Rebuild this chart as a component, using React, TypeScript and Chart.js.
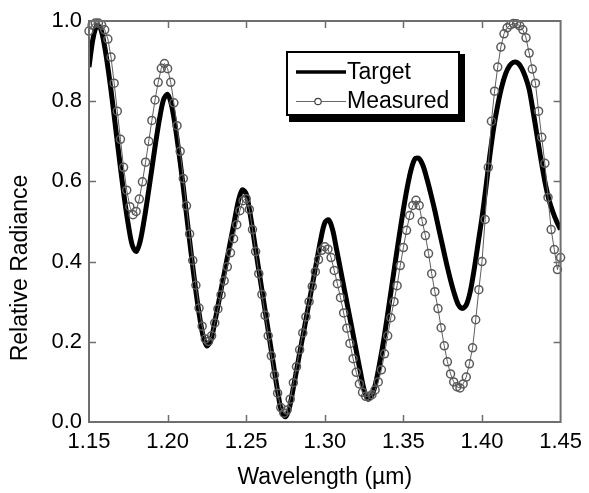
import { useEffect, useRef } from "react";
import { Chart, registerables } from "chart.js";

Chart.register(...registerables);

// ---- data ----
const targetWavelength = [
  1.15, 1.1525, 1.155, 1.1575, 1.16, 1.1625, 1.165, 1.1675,
  1.17, 1.1725, 1.175, 1.1775, 1.18, 1.1825, 1.185, 1.1875,
  1.19, 1.1925, 1.195, 1.1975, 1.2, 1.2025, 1.205, 1.2075,
  1.21, 1.2125, 1.215, 1.2175, 1.22, 1.2225, 1.225, 1.2275,
  1.23, 1.2325, 1.235, 1.2375, 1.24, 1.2425, 1.245, 1.2475,
  1.25, 1.2525, 1.255, 1.2575, 1.26, 1.2625, 1.265, 1.2675,
  1.27, 1.2725, 1.275, 1.2775, 1.28, 1.2825, 1.285, 1.2875,
  1.29, 1.2925, 1.295, 1.2975, 1.3, 1.3025, 1.305, 1.3075,
  1.31, 1.3125, 1.315, 1.3175, 1.32, 1.3225, 1.325, 1.3275,
  1.33, 1.3325, 1.335, 1.3375, 1.34, 1.3425, 1.345, 1.3475,
  1.35, 1.3525, 1.355, 1.3575, 1.36, 1.3625, 1.365, 1.3675,
  1.37, 1.3725, 1.375, 1.3775, 1.38, 1.3825, 1.385, 1.3875,
  1.39, 1.3925, 1.395, 1.3975, 1.4, 1.4025, 1.405, 1.4075,
  1.41, 1.4125, 1.415, 1.4175, 1.42, 1.4225, 1.425, 1.4275,
  1.43, 1.4325, 1.435, 1.4375, 1.44, 1.4425, 1.445, 1.4475,
  1.45,
];
const targetRadiance = [
  0.885, 0.955, 0.988, 0.98, 0.935, 0.871, 0.796, 0.715,
  0.635, 0.558, 0.492, 0.441, 0.425, 0.45, 0.502, 0.565,
  0.632, 0.699, 0.759, 0.805, 0.817, 0.79, 0.734, 0.663,
  0.585, 0.502, 0.42, 0.341, 0.272, 0.216, 0.19, 0.203,
  0.249, 0.299, 0.35, 0.4, 0.451, 0.501, 0.551, 0.579,
  0.569, 0.519, 0.456, 0.392, 0.329, 0.266, 0.203, 0.139,
  0.077, 0.026, 0.013, 0.036, 0.086, 0.139, 0.193, 0.245,
  0.298, 0.351, 0.404, 0.457, 0.497, 0.504, 0.479, 0.43,
  0.38, 0.329, 0.279, 0.229, 0.178, 0.128, 0.08, 0.057,
  0.066, 0.099, 0.149, 0.205, 0.269, 0.336, 0.403, 0.468,
  0.53, 0.586, 0.631, 0.657, 0.657, 0.639, 0.606, 0.568,
  0.527, 0.482, 0.438, 0.394, 0.354, 0.319, 0.292, 0.283,
  0.292, 0.325, 0.38, 0.445, 0.51, 0.585, 0.665, 0.735,
  0.79, 0.835, 0.868, 0.888, 0.897, 0.896, 0.884, 0.862,
  0.83, 0.775, 0.715, 0.655, 0.6, 0.556, 0.525, 0.5,
  0.48,
];

const measuredWavelength = [
  1.15, 1.152, 1.154, 1.156, 1.158, 1.16, 1.162, 1.164, 1.166, 1.168,
  1.17, 1.172, 1.174, 1.176, 1.178, 1.18, 1.182, 1.184, 1.186, 1.188,
  1.19, 1.192, 1.194, 1.196, 1.198, 1.2, 1.202, 1.204, 1.206, 1.208,
  1.21, 1.212, 1.214, 1.216, 1.218, 1.22, 1.222, 1.224, 1.226, 1.228,
  1.23, 1.232, 1.234, 1.236, 1.238, 1.24, 1.242, 1.244, 1.246, 1.248,
  1.25, 1.252, 1.254, 1.256, 1.258, 1.26, 1.262, 1.264, 1.266, 1.268,
  1.27, 1.272, 1.274, 1.276, 1.278, 1.28, 1.282, 1.284, 1.286, 1.288,
  1.29, 1.292, 1.294, 1.296, 1.298, 1.3, 1.302, 1.304, 1.306, 1.308,
  1.31, 1.312, 1.314, 1.316, 1.318, 1.32, 1.322, 1.324, 1.326, 1.328,
  1.33, 1.332, 1.334, 1.336, 1.338, 1.34, 1.342, 1.344, 1.346, 1.348,
  1.35, 1.352, 1.354, 1.356, 1.358, 1.36, 1.362, 1.364, 1.366, 1.368,
  1.37, 1.372, 1.374, 1.376, 1.378, 1.38, 1.382, 1.384, 1.386, 1.388,
  1.39, 1.392, 1.394, 1.396, 1.398, 1.4, 1.402, 1.404, 1.406, 1.408,
  1.41, 1.412, 1.414, 1.416, 1.418, 1.42, 1.422, 1.424, 1.426, 1.428,
  1.43, 1.432, 1.434, 1.436, 1.438, 1.44, 1.442, 1.444, 1.446, 1.448,
  1.45,
];
const measuredRadiance = [
  0.975, 0.99, 0.995, 0.995, 0.99, 0.978, 0.955, 0.91, 0.845, 0.775,
  0.705, 0.635, 0.578, 0.537, 0.517, 0.525, 0.556, 0.599, 0.648, 0.7,
  0.752, 0.803, 0.847, 0.882, 0.894, 0.881, 0.847, 0.796, 0.739, 0.675,
  0.607, 0.539, 0.469, 0.403, 0.341, 0.284, 0.239, 0.207, 0.201, 0.215,
  0.247, 0.282, 0.317, 0.352, 0.387, 0.422, 0.457, 0.492, 0.527, 0.552,
  0.557, 0.53, 0.48, 0.425, 0.37, 0.318, 0.266, 0.215, 0.165, 0.117,
  0.072, 0.036, 0.022, 0.03, 0.057, 0.098, 0.138, 0.18, 0.222, 0.262,
  0.3, 0.338, 0.375, 0.405, 0.428, 0.437, 0.431, 0.41, 0.378, 0.345,
  0.31, 0.272, 0.234, 0.196, 0.158, 0.124, 0.095, 0.074, 0.064, 0.063,
  0.068, 0.08, 0.1, 0.13, 0.17, 0.215, 0.26, 0.3, 0.34, 0.39,
  0.435, 0.478, 0.515, 0.54, 0.553, 0.54, 0.5, 0.465, 0.42, 0.37,
  0.325, 0.283, 0.235, 0.19, 0.15, 0.12, 0.1, 0.088, 0.085, 0.095,
  0.112, 0.145, 0.185, 0.255, 0.33, 0.4, 0.505, 0.635, 0.75, 0.825,
  0.885, 0.935, 0.968, 0.983, 0.99, 0.994, 0.993, 0.988, 0.978, 0.958,
  0.92, 0.88, 0.845, 0.775, 0.71, 0.645, 0.56, 0.48, 0.43, 0.38,
  0.41,
];

const xTickValues = [1.15, 1.2, 1.25, 1.3, 1.35, 1.4, 1.45];
const yTickValues = [0, 0.2, 0.4, 0.6, 0.8, 1.0];
const seriesNames = ["Target", "Measured"];
const xTitle = "Wavelength (\u00b5m)";
const yTitle = "Relative Radiance";

const FONT = "'Liberation Sans', Arial, Helvetica, sans-serif";
const AXIS_GREY = "#6e6e6e";

const framePlugin = {
  id: "frameTicksLegend",
  afterDraw(chart: any) {
    const { ctx, chartArea } = chart;
    const { left, right, top, bottom } = chartArea;
    const xs = chart.scales.x;
    const ys = chart.scales.y;
    ctx.save();
    // inward tick marks on all four sides
    ctx.strokeStyle = AXIS_GREY;
    ctx.lineWidth = 1.5;
    const TL = 7;
    ctx.beginPath();
    xTickValues.forEach((v) => {
      const px = Math.round(xs.getPixelForValue(v)) + 0.5;
      if (px <= left + 2 || px >= right - 2) return;
      ctx.moveTo(px, bottom);
      ctx.lineTo(px, bottom - TL);
      ctx.moveTo(px, top);
      ctx.lineTo(px, top + TL);
    });
    yTickValues.forEach((v) => {
      const py = Math.round(ys.getPixelForValue(v)) + 0.5;
      if (py <= top + 2 || py >= bottom - 2) return;
      ctx.moveTo(left, py);
      ctx.lineTo(left + TL, py);
      ctx.moveTo(right, py);
      ctx.lineTo(right - TL, py);
    });
    ctx.stroke();
    // frame
    ctx.lineWidth = 2;
    ctx.strokeRect(left, top, right - left, bottom - top);

    // y axis title
    ctx.fillStyle = "#000";
    ctx.font = `23px ${FONT}`;
    ctx.textAlign = "center";
    ctx.textBaseline = "middle";
    ctx.save();
    ctx.translate(21, 268);
    ctx.rotate(-Math.PI / 2);
    ctx.fillText(yTitle, 0, 0);
    ctx.restore();

    // legend box with drop shadow
    const bx = 287, by = 52, bw = 174, bh = 65;
    ctx.fillStyle = "#000";
    ctx.fillRect(bx + 2, by + 2, bw + 2, bh + 3);
    ctx.fillStyle = "#fff";
    ctx.fillRect(bx - 1, by - 1, bw, bh);
    ctx.strokeStyle = "#000";
    ctx.lineWidth = 2;
    ctx.strokeRect(bx, by, bw - 2, bh - 2);

    const ty = 72, my = 101;
    ctx.lineCap = "butt";
    ctx.strokeStyle = "#000";
    ctx.lineWidth = 3.5;
    ctx.beginPath();
    ctx.moveTo(296, ty);
    ctx.lineTo(346, ty);
    ctx.stroke();

    ctx.strokeStyle = "#666";
    ctx.lineWidth = 1;
    ctx.beginPath();
    ctx.moveTo(296, my + 0.5);
    ctx.lineTo(346, my + 0.5);
    ctx.stroke();
    ctx.fillStyle = "#fff";
    ctx.strokeStyle = "#444";
    ctx.lineWidth = 1.2;
    ctx.beginPath();
    ctx.arc(318, my + 0.5, 3.2, 0, Math.PI * 2);
    ctx.fill();
    ctx.stroke();

    ctx.fillStyle = "#000";
    ctx.font = `23px ${FONT}`;
    ctx.textAlign = "left";
    ctx.textBaseline = "middle";
    ctx.fillText(seriesNames[0], 347, ty + 1);
    ctx.fillText(seriesNames[1], 347, my + 1);
    ctx.restore();
  },
};

export default function App() {
  const canvasRef = useRef<HTMLCanvasElement | null>(null);

  useEffect(() => {
    if (!canvasRef.current) return;
    const targetPoints = targetWavelength.map((w, i) => ({ x: w, y: targetRadiance[i] }));
    const measuredPoints = measuredWavelength.map((w, i) => ({ x: w, y: measuredRadiance[i] }));

    const chart = new Chart(canvasRef.current, {
      type: "line",
      data: {
        datasets: [
          {
            label: seriesNames[0],
            data: targetPoints,
            borderColor: "#000",
            borderWidth: 5,
            pointRadius: 0,
            tension: 0.3,
            fill: false,
            order: 1,
          },
          {
            label: seriesNames[1],
            data: measuredPoints,
            borderColor: "#5e5e5e",
            borderWidth: 1,
            pointRadius: 4,
            pointBorderColor: "#5a5a5a",
            pointBorderWidth: 1.5,
            pointBackgroundColor: "rgba(255,255,255,0)",
            tension: 0,
            fill: false,
            order: 0,
            clip: 6,
          },
        ],
      },
      options: {
        animation: false,
        responsive: false,
        maintainAspectRatio: false,
        parsing: false,
        normalized: true,
        layout: { padding: { left: 0, right: 25, top: 21, bottom: 0 } },
        plugins: {
          legend: { display: false },
          tooltip: { enabled: false },
        },
        events: [],
        scales: {
          x: {
            type: "linear",
            min: 1.15,
            max: 1.45,
            afterBuildTicks: (scale: any) => {
              scale.ticks = xTickValues.map((v) => ({ value: v }));
            },
            afterFit: (scale: any) => {
              scale.height = 71;
            },
            grid: { display: false, drawTicks: false },
            border: { display: false },
            ticks: {
              autoSkip: false,
              maxRotation: 0,
              padding: 7,
              color: "#000",
              font: { family: FONT, size: 22 },
              callback: (v: any) => Number(v).toFixed(2),
            },
            title: {
              display: true,
              text: xTitle,
              color: "#000",
              font: { family: FONT, size: 23 },
              padding: { top: 0, bottom: 2 },
            },
          },
          y: {
            type: "linear",
            min: 0,
            max: 1,
            afterBuildTicks: (scale: any) => {
              scale.ticks = yTickValues.map((v) => ({ value: v }));
            },
            afterFit: (scale: any) => {
              scale.width = 89;
            },
            grid: { display: false, drawTicks: false },
            border: { display: false },
            ticks: {
              padding: 7,
              color: "#000",
              font: { family: FONT, size: 22 },
              callback: (v: any) => Number(v).toFixed(1),
            },
          },
        },
      },
      plugins: [framePlugin],
    });
    return () => chart.destroy();
  }, []);

  return (
    <div style={{ position: "fixed", left: 0, top: 0, width: 589, height: 493, background: "#fff" }}>
      <canvas ref={canvasRef} width={589} height={493} style={{ display: "block", width: 589, height: 493 }} />
    </div>
  );
}
